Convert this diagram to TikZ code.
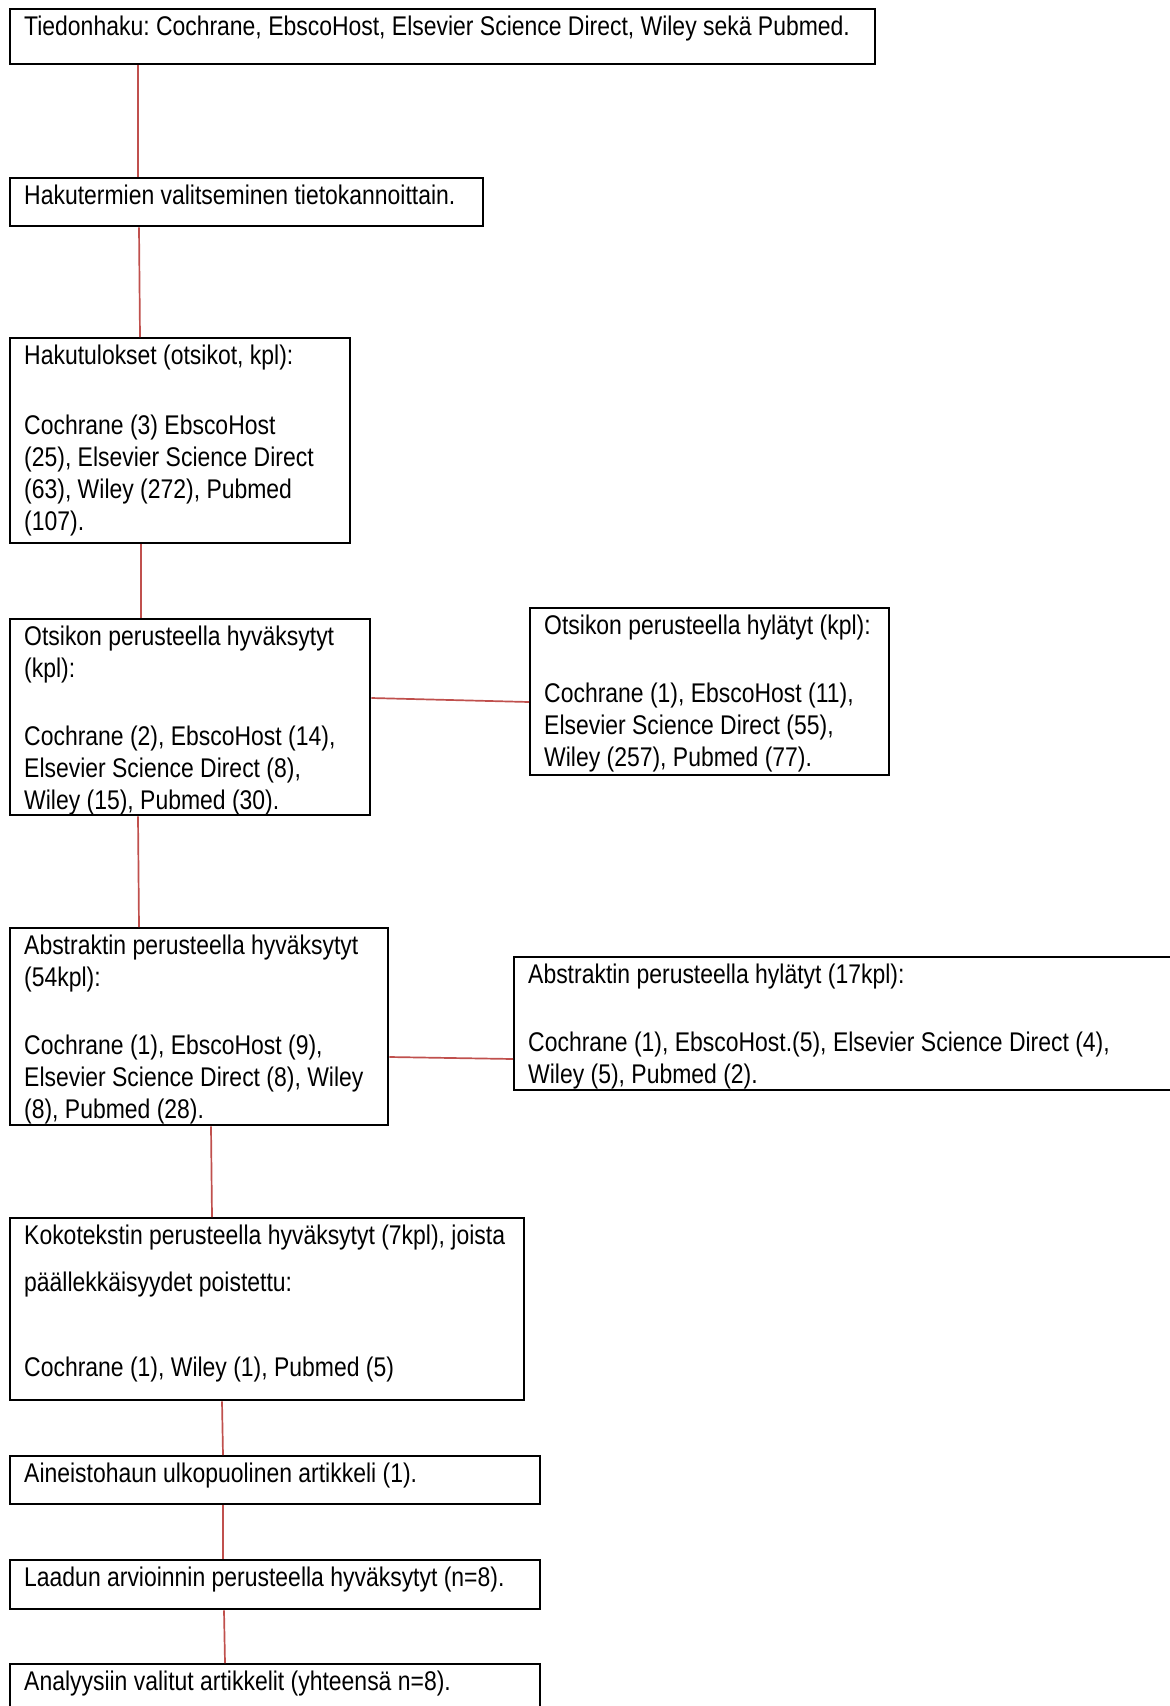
\documentclass[tikz,border=0pt]{standalone}
\usepackage{fontspec}
\setmainfont[FakeStretch=0.85]{Liberation Sans}
\usepackage{xcolor}
\definecolor{linkred}{RGB}{192, 80, 77}
\frenchspacing

\tikzset{
  box/.style={draw, line width=2.4pt, anchor=north west, inner sep=0pt},
  txt/.style={anchor=north west, align=left, inner xsep=15pt, inner ysep=7.5pt,
    font=\fontsize{27}{32}\selectfont},
  link/.style={draw=linkred, line width=1.7pt},
}

\begin{document}
\begin{tikzpicture}[x=1pt, y=-1pt]
    \fill[white] (0,0) rectangle (1170,1706);
    \useasboundingbox (0,0) rectangle (1170,1706);

    % main column
    \node[box, minimum width=865pt, minimum height=55pt,
      label={[txt]north west:{Tiedonhaku: Cochrane, EbscoHost, Elsevier Science Direct, Wiley sekä Pubmed.}}] (search) at (9,8) {};
    \node[box, minimum width=473pt, minimum height=48pt,
      label={[txt]north west:{Hakutermien valitseminen tietokannoittain.}}] (terms) at (9,177) {};
    \node[box, minimum width=340pt, minimum height=205pt,
      label={[txt]north west:{Hakutulokset (otsikot, kpl):\\[38pt]
        Cochrane (3) EbscoHost\\(25), Elsevier Science Direct\\(63), Wiley (272), Pubmed\\(107).}}] (results) at (9,337) {};
    \node[box, minimum width=360pt, minimum height=196pt,
      label={[txt]north west:{Otsikon perusteella hyväksytyt\\(kpl):\\[36pt]
        Cochrane (2), EbscoHost (14),\\Elsevier Science Direct (8),\\Wiley (15), Pubmed (30).}}] (titleok) at (9,618) {};
    \node[box, minimum width=378pt, minimum height=197pt,
      label={[txt]north west:{Abstraktin perusteella hyväksytyt\\(54kpl):\\[36pt]
        Cochrane (1), EbscoHost (9),\\Elsevier Science Direct (8), Wiley\\(8), Pubmed (28).}}] (abstok) at (9,927) {};
    \node[box, minimum width=514pt, minimum height=182pt,
      label={[txt]north west:{Kokotekstin perusteella hyväksytyt (7kpl), joista\\[15pt]
        päällekkäisyydet poistettu:\\[53pt]Cochrane (1), Wiley (1), Pubmed (5)}}] (fullok) at (9,1217) {};
    \node[box, minimum width=530pt, minimum height=48pt,
      label={[txt]north west:{Aineistohaun ulkopuolinen artikkeli (1).}}] (extra) at (9,1455) {};
    \node[box, minimum width=530pt, minimum height=49pt,
      label={[txt]north west:{Laadun arvioinnin perusteella hyväksytyt (n=8).}}] (quality) at (9,1559) {};
    \node[box, minimum width=530pt, minimum height=80pt,
      label={[txt]north west:{Analyysiin valitut artikkelit (yhteensä n=8).}}] (final) at (9,1663) {};

    % rejected
    \node[box, minimum width=359pt, minimum height=167pt,
      label={[txt]north west:{Otsikon perusteella hylätyt (kpl):\\[36pt]
        Cochrane (1), EbscoHost (11),\\Elsevier Science Direct (55),\\Wiley (257), Pubmed (77).}}] (titleno) at (529,607) {};
    \node[box, minimum width=700pt, minimum height=133pt,
      label={[txt]north west:{Abstraktin perusteella hylätyt (17kpl):\\[36pt]
        Cochrane (1), EbscoHost.(5), Elsevier Science Direct (4),\\Wiley (5), Pubmed (2).}}] (abstno) at (513,956) {};

    % connectors
    \draw[link] ([xshift=129pt]search.south west) -- ([xshift=129pt]terms.north west);
    \draw[link] ([xshift=130pt]terms.south west) -- ([xshift=131pt]results.north west);
    \draw[link] ([xshift=132pt]results.south west) -- ([xshift=132pt]titleok.north west);
    \draw[link] ([yshift=-80pt]titleok.north east) -- ([yshift=-95pt]titleno.north west);
    \draw[link] ([xshift=129pt]titleok.south west) -- ([xshift=130pt]abstok.north west);
    \draw[link] ([yshift=-130pt]abstok.north east) -- ([yshift=-103pt]abstno.north west);
    \draw[link] ([xshift=202pt]abstok.south west) -- ([xshift=203pt]fullok.north west);
    \draw[link] ([xshift=213pt]fullok.south west) -- ([xshift=214pt]extra.north west);
    \draw[link] ([xshift=214pt]extra.south west) -- ([xshift=214pt]quality.north west);
    \draw[link] ([xshift=215pt]quality.south west) -- ([xshift=216pt]final.north west);
\end{tikzpicture}
\end{document}
